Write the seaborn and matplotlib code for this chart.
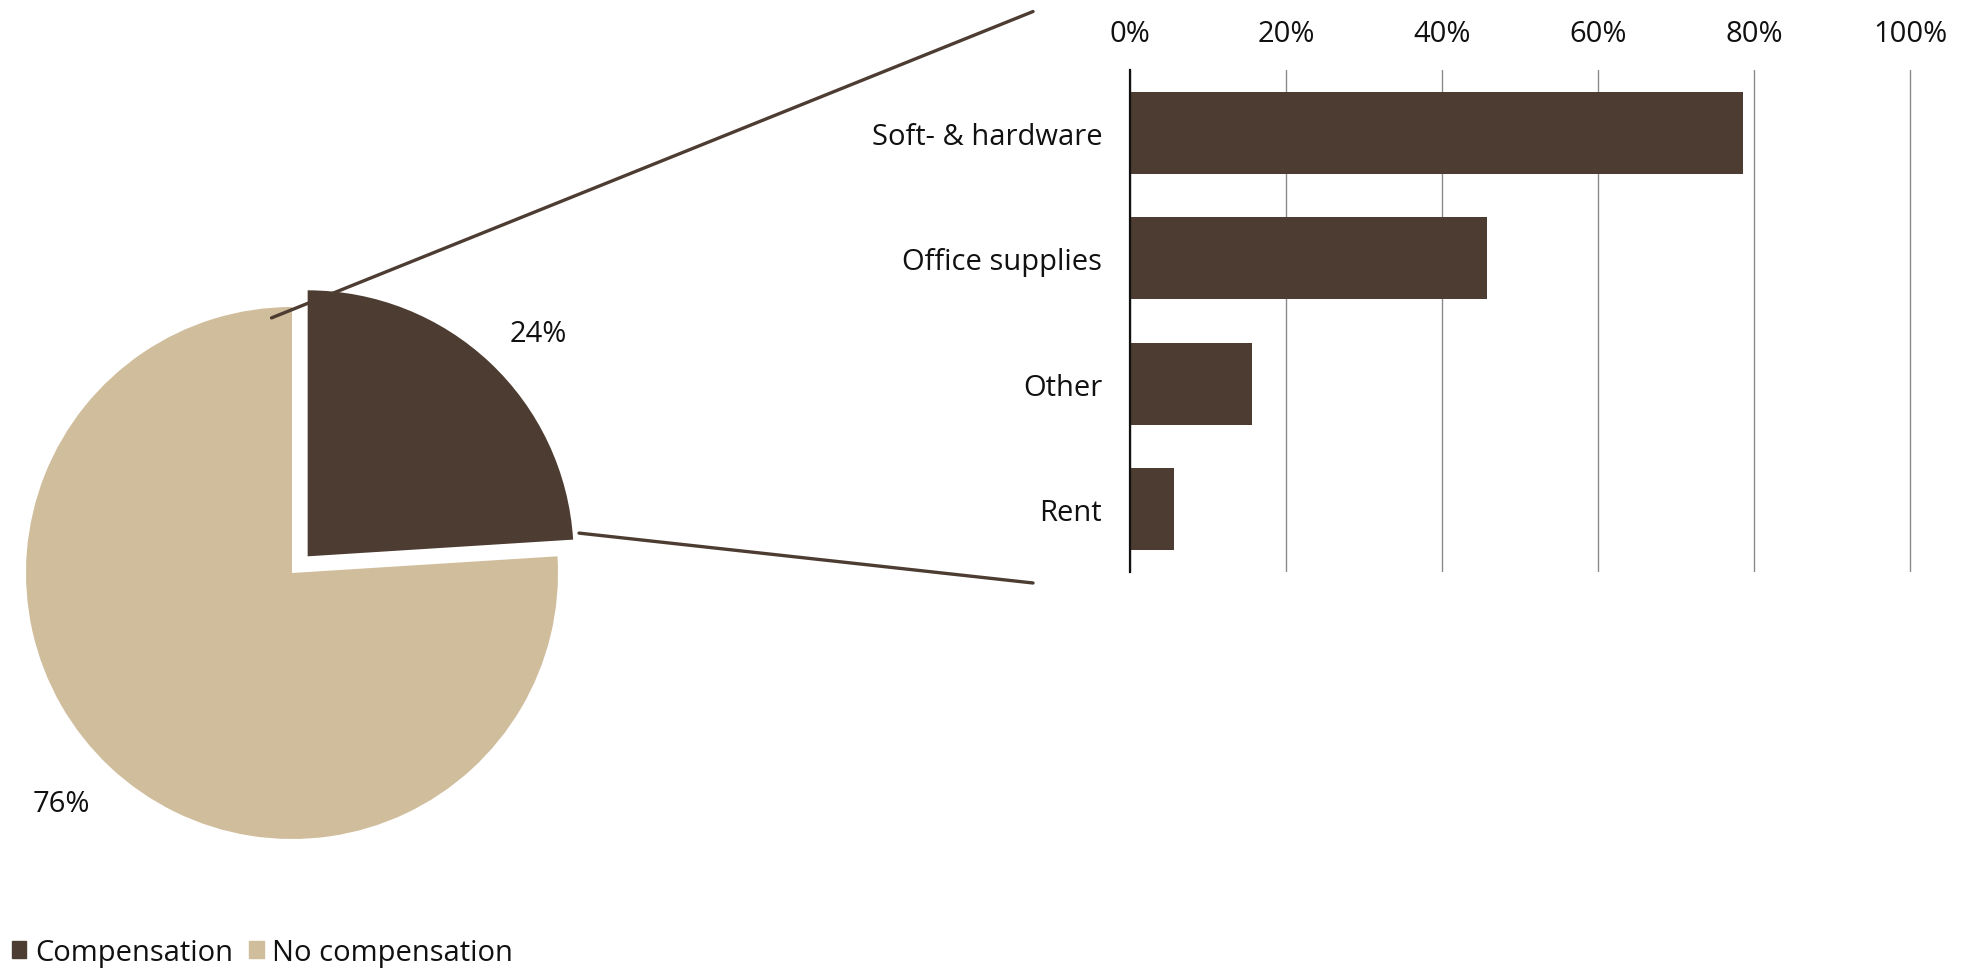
import matplotlib
matplotlib.use("Agg")
import matplotlib.pyplot as plt
from matplotlib.patches import Patch, ConnectionPatch
import seaborn as sns

# Share of respondents receiving compensation
comp_labels = ["Compensation", "No compensation"]
comp_share = [24, 76]

# What the compensation covers (% of those compensated)
categories = ["Soft- & hardware", "Office supplies", "Other", "Rent"]
shares = [78.5, 45.7, 15.6, 5.7]

x_ticks = [0, 20, 40, 60, 80, 100]

DARK = "#4D3C31"
BEIGE = "#D0BD9C"
FS = 21

sns.set_theme(style="white")
plt.rcParams["font.family"] = ["Open Sans", "DejaVu Sans"]
plt.rcParams["font.size"] = FS
plt.rcParams["text.color"] = "#111111"

W, H = 1961, 970
fig = plt.figure(figsize=(W / 100, H / 100), dpi=100)

# ---- bar chart (right) ----
bx0, bx1, by0, by1 = 1130, 1912, 71, 573
ax_bar = fig.add_axes([bx0 / W, 1 - by1 / H, (bx1 - bx0) / W, (by1 - by0) / H])
sns.barplot(x=shares, y=categories, orient="h", color=DARK, saturation=1,
            width=0.656, ax=ax_bar, linewidth=0)
ax_bar.set_xlim(0, 100.2)
ax_bar.set_ylim(3.5, -0.5)
ax_bar.set_xticks(x_ticks)
ax_bar.set_xticklabels([f"{t}%" for t in x_ticks])
ax_bar.xaxis.tick_top()
ax_bar.tick_params(axis="x", length=0, pad=16, labelsize=FS, labelcolor="#111111")
ax_bar.tick_params(axis="y", length=0, pad=20, labelsize=FS, labelcolor="#111111")
ax_bar.set_xlabel("")
ax_bar.set_ylabel("")
ax_bar.grid(axis="x", color="#8a8a8a", linewidth=1.0)
ax_bar.grid(axis="y", visible=False)
ax_bar.set_axisbelow(True)
for side in ["top", "right", "bottom"]:
    ax_bar.spines[side].set_visible(False)
ax_bar.spines["left"].set_color("#111111")
ax_bar.spines["left"].set_linewidth(1.6)

# ---- pie chart (left) ----
cx, cy, r_px, half = 292, 574, 266, 285
ax_pie = fig.add_axes([(cx - half) / W, (H - cy - half) / H, 2 * half / W, 2 * half / H])
wedges, texts, autotexts = ax_pie.pie(
    comp_share, colors=[DARK, BEIGE], startangle=90, counterclock=False,
    explode=[0.086, 0], autopct="%1.0f%%", pctdistance=1.22, radius=1,
    wedgeprops=dict(linewidth=0), textprops=dict(fontsize=FS, color="#111111"))
# small nudges so the percentage labels sit clear of the wedge edges
for t, (dx, dy) in zip(autotexts, [(0.033, -0.052), (-0.033, 0.024)]):
    x, y = t.get_position()
    t.set_position((x + dx, y + dy))
lim = half / r_px
ax_pie.set_xlim(-lim, lim)
ax_pie.set_ylim(-lim, lim)
ax_pie.axis("off")

# ---- connector lines from the compensation slice to the bar chart ----
for pa, pb in [((-0.077, 0.959), (-0.124, 1.1165)),
               ((1.079, 0.150), (-0.124, -0.0219))]:
    con = ConnectionPatch(xyA=pa, coordsA=ax_pie.transData,
                          xyB=pb, coordsB=ax_bar.transAxes,
                          color=DARK, linewidth=2.4)
    fig.add_artist(con)

# ---- legend ----
handles = [Patch(color=c, label=l) for c, l in zip([DARK, BEIGE], comp_labels)]
fig.legend(handles=handles, loc="lower left", bbox_to_anchor=(0.003, -0.004),
           ncol=2, frameon=False, fontsize=FS, handlelength=0.5,
           handleheight=0.5, handletextpad=0.3, columnspacing=0.55,
           borderaxespad=0, borderpad=0.2)

fig.savefig("out.png", dpi=100)
